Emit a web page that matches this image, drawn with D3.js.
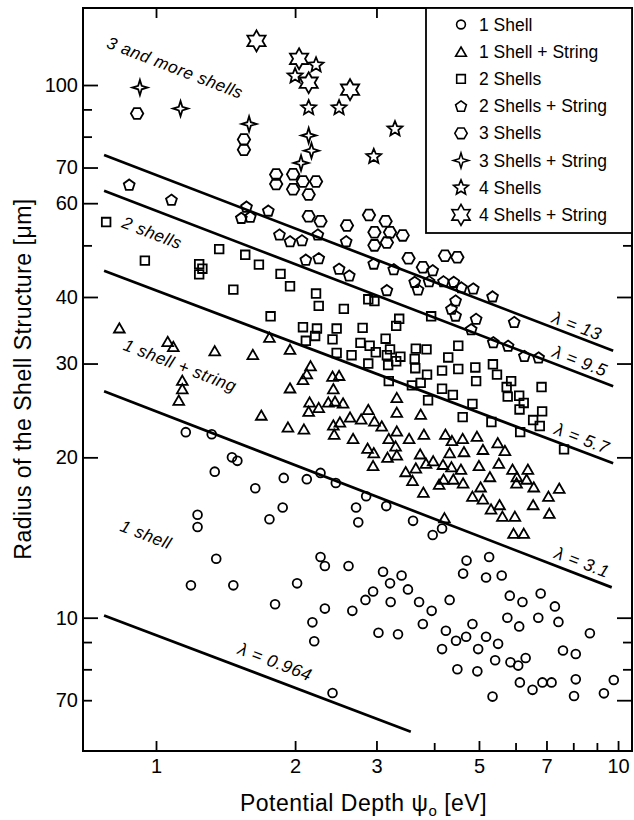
<!DOCTYPE html>
<html><head><meta charset="utf-8">
<script src="https://cdn.jsdelivr.net/npm/d3@7"></script>
<style>
body{margin:0;background:#fff;}
svg{display:block;font-family:"Liberation Sans",Arial,Helvetica,sans-serif;}
</style></head><body>
<svg id="chart" width="634" height="820"></svg>
<script>
// ---------- data: [psi (eV), radius (um)] ----------
const oneShell = [[1.16,22.3],[1.32,22.1],[1.46,20.0],[1.50,19.7],[1.34,18.8],[1.64,17.5],[1.89,18.3],[2.12,18.2],[2.27,18.7],[1.88,16.1],[1.76,15.3],[1.23,15.6],[1.23,14.8],[2.45,17.9],[2.85,16.9],[2.71,16.1],[3.15,16.2],[2.74,15.1],[3.60,15.2],[3.97,14.3],[4.16,14.7],[1.35,12.9],[1.19,11.5],[1.47,11.5],[1.81,10.6],[2.02,11.6],[2.18,9.80],[2.20,9.03],[2.27,13.0],[2.32,12.5],[2.61,12.5],[2.32,10.4],[2.66,10.3],[2.84,10.8],[2.95,11.2],[3.10,12.2],[3.21,11.6],[3.40,12.0],[3.51,11.3],[3.22,10.7],[3.71,10.7],[3.95,10.3],[3.03,9.37],[3.34,9.31],[3.78,9.73],[4.32,10.8],[4.70,12.8],[4.62,12.1],[5.26,13.0],[5.18,11.9],[5.60,12.0],[5.83,11.0],[6.21,10.7],[6.80,11.1],[7.30,10.5],[5.76,10.0],[6.11,9.63],[6.72,10.0],[7.43,9.82],[8.69,9.35],[4.24,9.45],[4.84,9.73],[4.69,9.21],[4.46,9.05],[4.16,8.73],[4.98,8.73],[5.18,9.21],[5.50,8.93],[5.42,8.32],[5.85,8.25],[6.08,8.13],[6.31,8.40],[7.60,8.68],[8.10,8.55],[4.49,8.00],[4.96,7.93],[6.13,7.56],[6.53,7.32],[6.86,7.56],[7.18,7.56],[8.10,7.66],[8.03,7.13],[5.35,7.11],[9.32,7.21],[9.79,7.64],[2.41,7.22]];
const oneShellString = [[0.833,35.0],[1.06,33.0],[1.09,32.3],[1.34,31.7],[1.62,31.2],[1.76,33.6],[1.95,31.9],[1.14,27.9],[1.14,26.9],[1.12,25.6],[1.69,24.0],[1.95,27.0],[2.16,29.7],[2.12,28.7],[2.08,28.0],[2.15,25.4],[2.14,24.4],[1.93,22.8],[2.09,22.6],[2.41,28.4],[2.49,28.5],[2.42,26.9],[2.25,24.8],[2.36,25.4],[2.44,25.5],[2.54,25.3],[2.43,22.1],[2.42,23.0],[2.50,23.3],[2.63,23.8],[2.78,23.6],[2.88,24.6],[2.97,23.4],[3.08,22.9],[2.67,21.7],[3.32,25.9],[3.32,24.3],[3.74,24.1],[3.32,22.4],[3.19,21.7],[3.53,21.7],[3.80,22.1],[4.23,22.1],[4.37,21.5],[4.61,21.7],[4.95,21.9],[5.49,21.3],[5.69,20.6],[3.30,21.0],[2.87,20.8],[2.96,20.4],[3.32,20.2],[3.17,20.0],[4.32,20.4],[4.64,20.5],[3.73,20.3],[3.84,19.5],[3.98,19.7],[4.18,19.4],[4.36,19.2],[4.57,19.0],[5.00,19.3],[5.52,19.5],[2.95,19.3],[3.47,18.8],[3.65,19.1],[3.59,18.1],[3.79,17.2],[4.10,17.8],[4.19,18.2],[4.40,18.2],[4.62,17.9],[5.04,17.6],[5.28,18.4],[5.91,19.0],[6.04,18.4],[6.03,17.9],[6.38,19.0],[6.34,18.2],[6.57,17.6],[4.84,16.9],[5.10,16.7],[5.31,16.0],[5.54,16.3],[5.62,15.5],[5.98,15.5],[6.55,16.3],[7.07,16.9],[7.46,17.5],[7.10,15.7],[5.94,14.4],[6.25,14.4],[4.21,15.4],[5.10,20.7]];
const twoShells = [[0.78,55.3],[0.946,46.8],[1.24,46.1],[1.26,45.2],[1.24,44.1],[1.37,49.2],[1.56,48.0],[1.67,46.0],[1.86,44.2],[1.95,41.9],[1.47,41.3],[2.22,40.6],[2.25,38.5],[1.77,36.8],[2.55,38.0],[2.88,39.6],[2.97,39.3],[2.08,35.1],[2.23,34.9],[2.46,34.9],[2.80,35.0],[2.11,33.1],[2.21,33.8],[2.41,33.3],[2.77,32.8],[2.90,32.4],[3.14,33.4],[3.31,35.3],[3.36,36.4],[3.94,36.8],[2.99,31.5],[3.21,31.9],[3.65,32.0],[3.85,31.9],[2.46,31.4],[2.65,31.1],[3.16,31.1],[3.31,30.3],[3.38,30.9],[2.88,30.0],[3.18,29.8],[3.63,30.6],[3.64,29.4],[4.51,32.4],[4.29,30.8],[3.19,27.8],[3.58,27.3],[3.74,27.6],[3.86,28.6],[4.16,29.1],[4.51,29.3],[4.39,26.2],[3.88,25.6],[4.16,26.9],[4.84,25.2],[4.61,23.8],[4.91,29.5],[4.93,27.8],[5.36,29.9],[5.47,28.6],[5.87,27.8],[5.74,27.1],[5.77,26.0],[6.11,26.1],[6.25,25.3],[6.12,24.6],[6.83,27.1],[6.85,24.4],[6.55,23.5],[6.77,22.9],[5.32,23.3],[6.14,22.3],[7.64,20.7]];
const twoShellsString = [[0.875,65.0],[1.08,60.9],[1.57,59.1],[1.53,56.3],[1.60,56.6],[1.75,58.1],[1.85,52.4],[1.95,50.9],[2.07,51.1],[2.24,52.4],[2.58,50.9],[2.11,47.0],[2.25,47.3],[2.49,45.2],[2.62,43.9],[2.96,46.2],[3.27,45.1],[3.16,41.2],[3.63,42.7],[3.69,41.3],[3.97,44.9],[3.90,42.8],[4.19,42.8],[4.41,42.7],[4.58,41.7],[4.45,39.4],[4.36,38.0],[4.45,36.9],[4.86,41.5],[5.35,40.1],[4.93,36.4],[4.81,34.8],[5.96,35.9],[5.37,32.9],[5.78,32.4],[6.27,31.0],[6.73,30.8]];
const threeShells = [[0.91,88.4],[1.55,79.0],[1.55,75.6],[1.82,67.9],[1.82,65.2],[1.98,68.0],[1.98,63.7],[2.08,65.9],[2.22,65.9],[2.14,62.3],[2.14,56.7],[2.27,55.5],[2.59,54.5],[2.89,57.0],[3.14,55.5],[2.97,52.9],[3.21,52.9],[3.42,52.2],[2.97,50.0],[3.16,50.6],[3.52,47.3],[3.78,45.5],[4.22,47.8],[4.49,47.5]];
const threeShellsString = [[0.923,98.9],[1.13,90.3],[1.59,84.5],[2.14,80.4],[2.17,75.3],[2.06,71.4]];
const fourShells = [[2.22,109],[2.0,104],[2.14,90.6],[2.49,90.6],[3.29,82.7],[2.96,73.4]];
const fourShellsString = [[1.65,121],[2.04,112],[2.14,101],[2.63,98]];

const seriesNames = ["1 Shell","1 Shell + String","2 Shells","2 Shells + String","3 Shells","3 Shells + String","4 Shells","4 Shells + String"];
const seriesData = [oneShell, oneShellString, twoShells, twoShellsString, threeShells, threeShellsString, fourShells, fourShellsString];

// lambda lines: endpoints [psi, R]
const lambdaLabels = ["λ = 13","λ = 9.5","λ = 5.7","λ = 3.1","λ = 0.964"];
const lambdaStarts = [[0.772,73.9],[0.772,63.3],[0.772,44.8],[0.772,26.6],[0.772,10.1]];
const lambdaEnds   = [[9.76,31.7],[9.76,27.2],[9.76,19.5],[9.69,11.4],[3.56,6.11]];
const lambdaLabelAt = [[8.15,35.3],[8.27,30.3],[8.36,21.7],[8.36,12.7],[1.81,8.26]];

const regionLabels = ["3 and more shells","2 shells","1 shell + string","1 shell"];
const regionLabelAt = [[1.099,107.6],[0.98,52.7],[1.127,29.7],[0.951,14.3]];

const xMajor = [1,2,3,5,7,10];
const xMajorLabels = ["1","2","3","5","7","10"];
const xMinor = [4,6,8,9];
const yMajor = [7,10,20,30,40,60,70,100];
const yMajorLabels = ["70","10","20","30","40","60","70","100"];
const yMinor = [8,9,50,80,90];

// ---------- layout ----------
const L = 83, R = 632, T = 8, B = 751;
const svg = d3.select("#chart");
const x = d3.scaleLog().domain([0.695, 10.72]).range([L, R]);
const y = d3.scaleLog().domain([5.62, 139.5]).range([B, T]);

svg.append("rect").attr("width",634).attr("height",820).attr("fill","#fff");

// axes
const fmtX = d => xMajorLabels[xMajor.indexOf(d)];
const fmtY = d => yMajorLabels[yMajor.indexOf(d)];
const tickFont = "20px";

svg.append("g").attr("transform",`translate(0,${B})`)
  .call(d3.axisBottom(x).tickValues(xMajor).tickFormat(fmtX).tickSize(-10).tickPadding(8));
svg.append("g").attr("transform",`translate(0,${B})`)
  .call(d3.axisBottom(x).tickValues(xMinor).tickFormat("").tickSize(-8));
const gL = svg.append("g").attr("transform",`translate(${L},0)`)
  .call(d3.axisLeft(y).tickValues(yMajor).tickFormat(fmtY).tickSize(-15).tickPadding(5));
gL.selectAll(".tick").filter(d => d === 7).select("line").attr("x2", 9);
svg.append("g").attr("transform",`translate(${L},0)`)
  .call(d3.axisLeft(y).tickValues(yMinor).tickFormat("").tickSize(-9));
svg.append("g").attr("transform",`translate(0,${T})`)
  .call(d3.axisTop(x).tickValues(xMajor.concat(xMinor)).tickFormat("").tickSize(-10));
svg.append("g").attr("transform",`translate(${R},0)`)
  .call(d3.axisRight(y).tickValues(yMajor).tickFormat("").tickSize(-15));
svg.append("g").attr("transform",`translate(${R},0)`)
  .call(d3.axisRight(y).tickValues(yMinor).tickFormat("").tickSize(-9));
svg.selectAll(".domain").remove();
svg.selectAll(".tick line").attr("stroke","#000").attr("stroke-width",1.8);
svg.selectAll(".tick text").attr("fill","#000").style("font-size",tickFont);

// frame
svg.append("rect").attr("x",L).attr("y",T).attr("width",R-L).attr("height",B-T)
  .attr("fill","none").attr("stroke","#000").attr("stroke-width",2);

// axis titles
const xt = svg.append("text").attr("x",(L+R)/2+6).attr("y",811).attr("text-anchor","middle")
  .style("font-size","23px").style("letter-spacing","0.5px");
xt.append("tspan").text("Potential Depth ψ");
xt.append("tspan").attr("dy",5).style("font-size","15px").text("o");
xt.append("tspan").attr("dy",-5).text(" [eV]");
svg.append("text").attr("transform","translate(31,379) rotate(-90)").attr("text-anchor","middle")
  .style("font-size","23px").style("letter-spacing","0.5px")
  .text("Radius of the Shell Structure [μm]");

// lambda lines
const lineGen = d3.line().x(d => x(d[0])).y(d => y(d[1]));
lambdaStarts.forEach((s,i) => {
  svg.append("path").attr("d", lineGen([s, lambdaEnds[i]]))
    .attr("stroke","#000").attr("stroke-width",2.7).attr("fill","none");
});
const angle = Math.atan2(y(lambdaEnds[0][1]) - y(lambdaStarts[0][1]), x(lambdaEnds[0][0]) - x(lambdaStarts[0][0])) * 180 / Math.PI;

// symbols
function star(n, ro, ri, rot) {
  const pts = [];
  for (let i = 0; i < 2*n; i++) {
    const r = i % 2 ? ri : ro, a = -Math.PI/2 + rot + i*Math.PI/n;
    pts.push([r*Math.cos(a), r*Math.sin(a)]);
  }
  return "M" + pts.map(p => p[0].toFixed(2)+","+p[1].toFixed(2)).join("L") + "Z";
}
function poly(n, r, a0, dy) {
  const pts = [];
  for (let i = 0; i < n; i++) { const a = a0 + i*2*Math.PI/n; pts.push([r*Math.cos(a), r*Math.sin(a) + dy]); }
  return "M" + pts.map(p => p[0].toFixed(2)+","+p[1].toFixed(2)).join("L") + "Z";
}
const circleP = r => `M${r},0A${r},${r} 0 1,1 ${-r},0A${r},${r} 0 1,1 ${r},0Z`;
const shapes = [
  circleP(4.4),
  poly(3, 6.2, -Math.PI/2, 1.5),
  "M-4.3,-4.3L4.3,-4.3L4.3,4.3L-4.3,4.3Z",
  poly(5, 5.7, -Math.PI/2, 0.5),
  poly(6, 6.2, 0, 0),
  star(4, 7.6, 2.5, 0),
  star(5, 7.8, 3.5, 0),
  star(6, 10.5, 6.0, 0)
];

seriesData.forEach((data, si) => {
  svg.append("g").selectAll("path").data(data).join("path")
    .attr("transform", d => `translate(${x(d[0])},${y(d[1])})`)
    .attr("d", shapes[si])
    .attr("fill","none").attr("stroke","#000").attr("stroke-width",1.8).attr("stroke-linejoin","miter");
});

// line labels
lambdaLabels.forEach((t,i) => {
  const p = lambdaLabelAt[i];
  svg.append("text").attr("transform",`translate(${x(p[0])},${y(p[1])}) rotate(${angle})`)
    .attr("text-anchor","middle").attr("dominant-baseline","central")
    .style("font-size","17.5px").style("font-style","italic").style("letter-spacing","0.6px").text(t);
});
regionLabels.forEach((t,i) => {
  const p = regionLabelAt[i];
  svg.append("text").attr("transform",`translate(${x(p[0])},${y(p[1])}) rotate(${angle})`)
    .attr("text-anchor","middle").attr("dominant-baseline","central")
    .style("font-size","17px").style("font-style","italic").style("letter-spacing","0.6px").text(t);
});

// legend
const lg = svg.append("g");
lg.append("rect").attr("x",426).attr("y",T).attr("width",R-426).attr("height",233-T)
  .attr("fill","#fff").attr("stroke","#000").attr("stroke-width",1.8);
seriesNames.forEach((name, i) => {
  const cy = 24.5 + i*27.2;
  lg.append("path").attr("transform",`translate(461,${cy})`).attr("d", shapes[i])
    .attr("fill","none").attr("stroke","#000").attr("stroke-width",1.6);
  lg.append("text").attr("x",479).attr("y",cy+6).style("font-size","17.5px").text(name);
});
</script>
</body></html>
